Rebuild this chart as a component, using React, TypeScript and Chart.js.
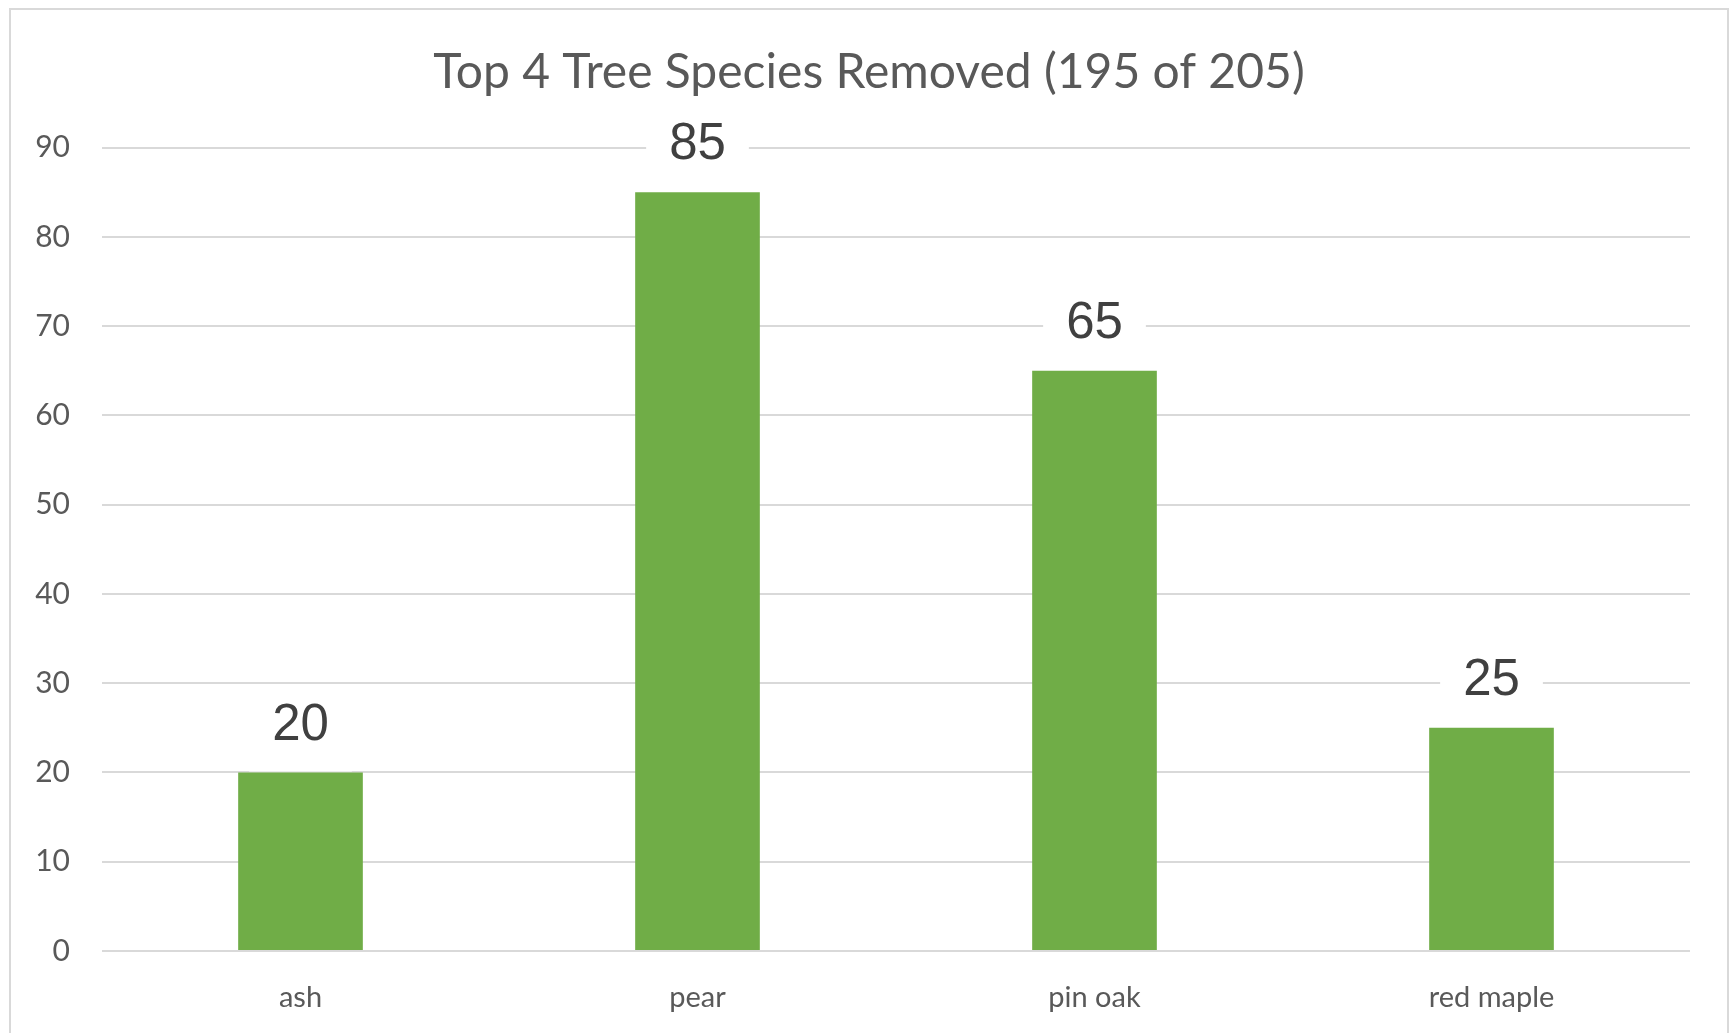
import React, { useEffect, useRef } from "react";
import { Chart, registerables } from "chart.js";

Chart.register(...registerables);

const titleText = "Top 4 Tree Species Removed (195 of 205)";
const categories = ["ash", "pear", "pin oak", "red maple"];
const removedCounts = [20, 85, 65, 25];
const yMin = 0;
const yMax = 90;
const yStep = 10;

const W = 1730;
const H = 1033;

const dataLabelPlugin = {
  id: "dataLabelBoxes",
  afterLayout(chart: any) {
    // Excel centres the title slightly right of the canvas centre
    if (chart.titleBlock) chart.titleBlock.left = 48;
  },
  afterDatasetsDraw(chart: any) {
    const ctx = chart.ctx;
    const meta = chart.getDatasetMeta(0);
    ctx.save();
    ctx.font = '51px "Liberation Sans", Arial, sans-serif';
    ctx.textAlign = "center";
    ctx.textBaseline = "middle";
    meta.data.forEach((bar: any, i: number) => {
      const text = String(chart.data.datasets[0].data[i]);
      const tw = ctx.measureText(text).width;
      const cx = bar.x;
      const cy = bar.y - 48;
      const padX = 23;
      ctx.fillStyle = "#ffffff";
      ctx.fillRect(cx - tw / 2 - padX, cy - 40, tw + padX * 2, bar.y - 1 - (cy - 40));
      ctx.fillStyle = "#404040";
      ctx.fillText(text, cx, cy + 1);
    });
    ctx.restore();
  },
};

export default function App() {
  const canvasRef = useRef<HTMLCanvasElement | null>(null);

  useEffect(() => {
    if (!canvasRef.current) return;
    const chart = new Chart(canvasRef.current, {
      type: "bar",
      data: {
        labels: categories,
        datasets: [
          {
            data: removedCounts,
            backgroundColor: "#70AD47",
            borderWidth: 0,
            barPercentage: 0.314,
            categoryPercentage: 1,
          },
        ],
      },
      options: {
        responsive: false,
        animation: false,
        devicePixelRatio: 1,
        layout: { padding: { left: 0, right: 40, top: 0, bottom: 0 } },
        plugins: {
          legend: { display: false },
          tooltip: { enabled: false },
          title: {
            display: true,
            text: titleText,
            color: "#595959",
            font: { family: "Lato", size: 48, weight: "normal", lineHeight: 1.2 },
            padding: { top: 44, bottom: 46 },
          },
        },
        scales: {
          x: {
            grid: { display: false, drawTicks: false },
            border: { display: false },
            ticks: {
              color: "#595959",
              font: { family: "Lato", size: 29 },
              padding: 29,
              maxRotation: 0,
            },
            afterFit(scale: any) {
              scale.height = H - 951;
            },
          },
          y: {
            min: yMin,
            max: yMax,
            grid: { color: "#d9d9d9", lineWidth: 2, drawTicks: false },
            border: { display: false },
            ticks: {
              stepSize: yStep,
              color: "#595959",
              font: { family: "Lato", size: 30 },
              padding: 32,
            },
            afterFit(scale: any) {
              scale.width = 102;
            },
          },
        },
      },
      plugins: [dataLabelPlugin],
    });
    return () => chart.destroy();
  }, []);

  return (
    <div
      style={{
        position: "fixed",
        left: 0,
        top: 0,
        width: W,
        height: H,
        background: "#ffffff",
        overflow: "hidden",
      }}
    >
      <canvas
        ref={canvasRef}
        width={W}
        height={H}
        style={{ position: "absolute", left: 0, top: 0, width: W, height: H }}
      />
      <div
        style={{
          position: "absolute",
          left: 9,
          top: 8,
          width: 1716,
          height: 1100,
          border: "2px solid #d9d9d9",
          pointerEvents: "none",
        }}
      />
    </div>
  );
}
